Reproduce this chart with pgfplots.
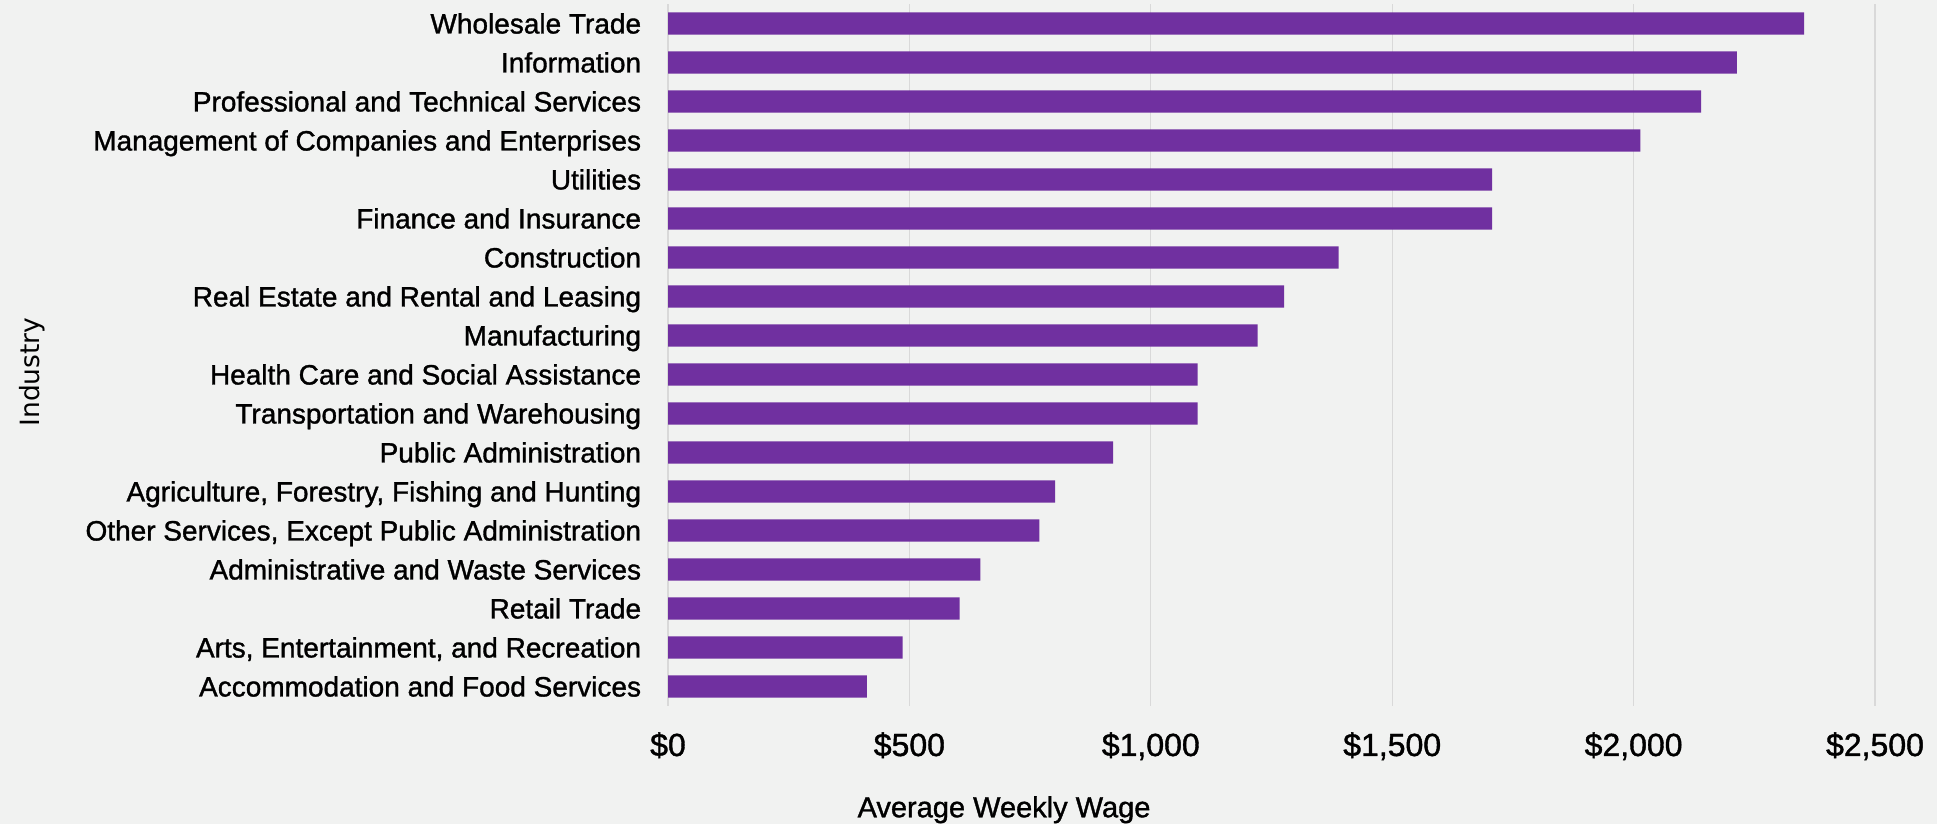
\documentclass[border=0pt]{standalone}
\usepackage{fontspec}
\setmainfont[FakeBold=1.2]{Liberation Sans}
\newfontfamily\djv{DejaVu Sans}
\usepackage{pgfplots}
\pgfplotsset{compat=1.18}
\usepackage{pgfplotstable}
\definecolor{bgc}{RGB}{241,242,241}
\definecolor{barc}{RGB}{112,48,160}
\definecolor{gridc}{RGB}{217,217,217}

\pgfplotstableread[col sep=comma]{
idx,wage
0,412
1,486
2,604
3,647
4,769
5,802
6,922
7,1097
8,1097
9,1221
10,1276
11,1389
12,1707
13,1707
14,2014
15,2140
16,2214
17,2353
}\wages

\begin{document}
\begin{tikzpicture}
\fill[bgc] (0,0) rectangle (968.5pt,412pt);
\path[use as bounding box] (0,0) rectangle (968.5pt,412pt);
\begin{axis}[
  at={(334pt,59pt)}, anchor=south west,
  scale only axis, width=603.5pt, height=351pt,
  xbar, bar width=0.573,
  xmin=0, xmax=2500, ymin=-0.5, ymax=17.5,
  axis line style={draw=none},
  major tick length=0pt, tick style={draw=none},
  xmajorgrids, grid style={gridc, line width=0.6pt},
  xtick={0,500,1000,1500,2000,2500},
  xticklabels={{\$0},{\$500},{\$1,000},{\$1,500},{\$2,000},{\$2,500}},
  xticklabel style={font=\fontsize{16}{18}\selectfont, anchor=base, inner sep=0pt, yshift=-25pt},
  ytick={0,...,17},
  yticklabels={
    {Accommodation and Food Services},
    {Arts, Entertainment, and Recreation},
    {Retail Trade},
    {Administrative and Waste Services},
    {Other Services, Except Public Administration},
    {Agriculture, Forestry, Fishing and Hunting},
    {Public Administration},
    {Transportation and Warehousing},
    {Health Care and Social Assistance},
    {Manufacturing},
    {Real Estate and Rental and Leasing},
    {Construction},
    {Finance and Insurance},
    {Utilities},
    {Management of Companies and Enterprises},
    {Professional and Technical Services},
    {Information},
    {Wholesale Trade}},
  yticklabel style={font=\fontsize{14}{16}\selectfont, anchor=base east, inner sep=0pt, xshift=-13.25pt, yshift=-5pt},
  xlabel={Average Weekly Wage},
  xlabel style={font=\fontsize{14.5}{17}\selectfont, at={(axis description cs:0.2784,-0.1585)}, anchor=base, inner sep=0pt},
  ylabel={Industry},
  ylabel style={font=\djv\fontsize{13.25}{15}\selectfont, at={(axis description cs:-0.5269,0.4758)}, anchor=center, rotate=0, inner sep=0pt},
]
\addplot[fill=barc, draw=none] table[x=wage, y=idx] {\wages};
\end{axis}
\end{tikzpicture}
\end{document}
